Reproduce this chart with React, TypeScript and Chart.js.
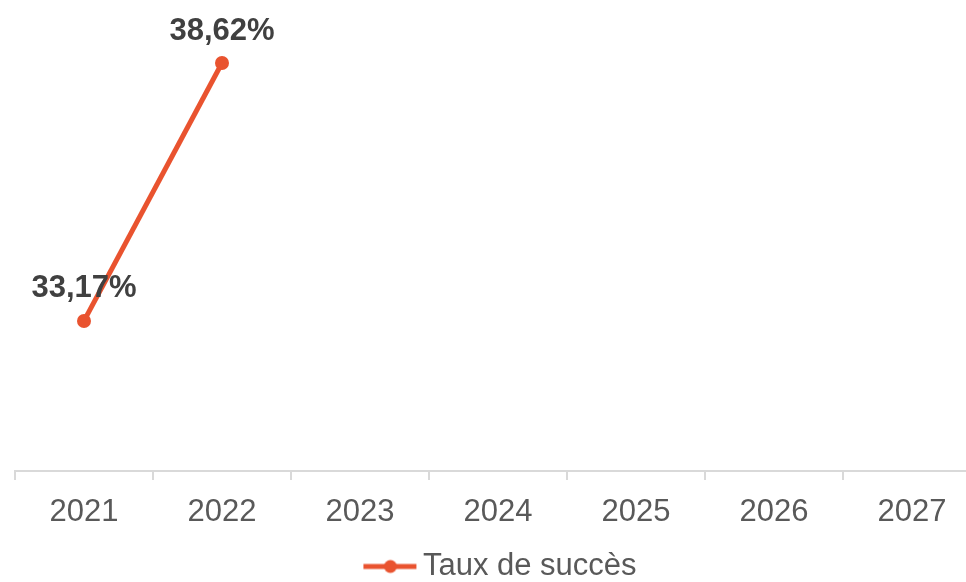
import React, { useEffect, useRef } from "react";
import { Chart, registerables } from "chart.js";

Chart.register(...registerables);

const categories = ["2021", "2022", "2023", "2024", "2025", "2026", "2027"];
const successRates: (number | null)[] = [33.17, 38.62, null, null, null, null, null];
const seriesName = "Taux de succès";
const lineColor = "#E9532F";
const FONT = "'Liberation Sans', Arial, sans-serif";

function makeLegendIcon(): HTMLCanvasElement {
  const c = document.createElement("canvas");
  c.width = 68;
  c.height = 16;
  const ctx = c.getContext("2d")!;
  ctx.strokeStyle = lineColor;
  ctx.lineWidth = 5;
  ctx.beginPath();
  ctx.moveTo(14, 8);
  ctx.lineTo(67, 8);
  ctx.stroke();
  ctx.fillStyle = lineColor;
  ctx.beginPath();
  ctx.arc(41, 8, 6.5, 0, Math.PI * 2);
  ctx.fill();
  return c;
}

const valueLabels = {
  id: "valueLabels",
  afterDatasetsDraw(chart: any) {
    const ctx = chart.ctx;
    ctx.save();
    ctx.font = `bold 31px ${FONT}`;
    ctx.fillStyle = "#404040";
    ctx.textAlign = "center";
    ctx.textBaseline = "middle";
    chart.data.datasets.forEach((ds: any, i: number) => {
      const meta = chart.getDatasetMeta(i);
      meta.data.forEach((pt: any, j: number) => {
        const v = ds.data[j];
        if (v == null) return;
        const txt = v.toFixed(2).replace(".", ",") + "%";
        ctx.fillText(txt, pt.x, pt.y - 32);
      });
    });
    ctx.restore();
  },
};

export default function App() {
  const ref = useRef<HTMLCanvasElement>(null);
  useEffect(() => {
    document.documentElement.style.overflow = "hidden";
    document.body.style.overflow = "hidden";
    const icon = makeLegendIcon();
    const chart = new Chart(ref.current!, {
      type: "line",
      data: {
        labels: categories,
        datasets: [
          {
            label: seriesName,
            data: successRates,
            borderColor: lineColor,
            backgroundColor: lineColor,
            borderWidth: 5,
            pointStyle: "circle",
            pointRadius: 7,
            pointHoverRadius: 7,
            pointBackgroundColor: lineColor,
            pointBorderWidth: 0,
            spanGaps: false,
            clip: false,
          } as any,
        ],
      },
      options: {
        responsive: false,
        animation: false,
        layout: { autoPadding: false, padding: { left: 15, right: 9, top: 0, bottom: -10 } },
        scales: {
          x: {
            offset: true,
            grid: {
              offset: true,
              drawOnChartArea: false,
              drawTicks: true,
              tickLength: 9,
              color: "#D9D9D9",
              lineWidth: 2,
            },
            border: { display: true, color: "#D9D9D9", width: 2 },
            ticks: {
              color: "#595959",
              font: { family: FONT, size: 31 },
              padding: 14,
              maxRotation: 0,
              autoSkip: false,
            },
            afterFit: (scale: any) => {
              scale.height = 80;
            },
          },
          y: {
            display: false,
            min: 30,
            max: 39.95,
          },
        },
        plugins: {
          legend: {
            position: "bottom",
            labels: {
              usePointStyle: true,
              pointStyleWidth: 48,
              generateLabels: () => [
                {
                  text: seriesName,
                  fillStyle: lineColor,
                  strokeStyle: lineColor,
                  lineWidth: 0,
                  pointStyle: icon,
                  hidden: false,
                  datasetIndex: 0,
                  fontColor: "#595959",
                },
              ],
              color: "#595959",
              font: { family: FONT, size: 31, lineHeight: 1 },
              padding: 0,
            },
          },
          tooltip: { enabled: false },
        },
      },
      plugins: [valueLabels],
    } as any);
    return () => chart.destroy();
  }, []);
  return (
    <div style={{ position: "fixed", left: 0, top: 0, width: 990, height: 582 }}>
      <canvas ref={ref} width={990} height={582} />
    </div>
  );
}
